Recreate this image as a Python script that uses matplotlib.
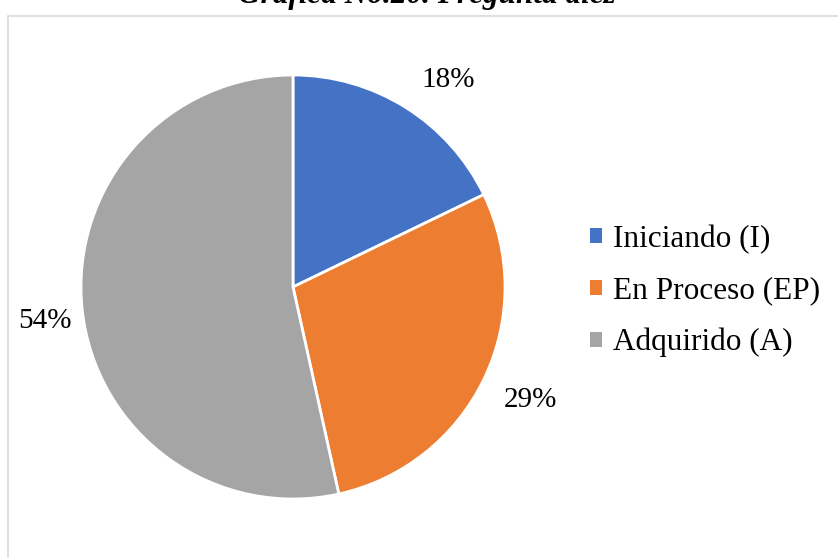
import matplotlib.pyplot as plt
from matplotlib.patches import Rectangle

# Data
categories = ["Iniciando (I)", "En Proceso (EP)", "Adquirido (A)"]
values = [18, 29, 54]
colors = ["#4472C4", "#ED7D31", "#A5A5A5"]
title = "Gráfica No.20. Pregunta diez"

plt.rcParams['font.family'] = ['Liberation Serif', 'DejaVu Serif']

W, H = 838, 558
fig = plt.figure(figsize=(W / 100, H / 100), dpi=100)

# chart frame (runs off the right and bottom edges)
fig.patches.append(Rectangle((8 / W, -0.1), 1.0, 1 - 16 / H + 0.1,
                             transform=fig.transFigure, fill=False,
                             edgecolor="#D9D9D9", linewidth=1.2))

# pie axes: center ~ (293, 287), radius ~ 212 px
cx, cy, r = 293, 287, 212
ax = fig.add_axes([(cx - r) / W, (H - cy - r) / H, 2 * r / W, 2 * r / H])
wedges, texts, autotexts = ax.pie(
    values, colors=colors, startangle=90, counterclock=False,
    autopct=lambda p: "{:.0f}%".format(p * sum(values) / 100),
    pctdistance=1.22, radius=1.0,
    wedgeprops=dict(edgecolor="white", linewidth=2),
    textprops=dict(fontsize=21, color="black"))
ax.set_xlim(-1, 1)
ax.set_ylim(-1, 1)
ax.set_aspect("equal")

# nudge labels to where Excel put them (offsets in pixels)
nudges = [(18, -12), (5, 0), (9, -6)]
for t, (dx, dy) in zip(autotexts, nudges):
    x, y = t.get_position()
    t.set_position((x + dx / r, y + dy / r))

leg = fig.legend(wedges, categories, loc="center left",
                 bbox_to_anchor=(562 / W, 1 - 291 / H), frameon=False,
                 fontsize=22.5, handlelength=0.37, handleheight=0.37,
                 handletextpad=0.35, labelspacing=0.72)
for h in leg.legend_handles:
    h.set_linewidth(0)

fig.text(427 / W, 1 - 3 / H, title, ha="center", va="baseline",
         fontsize=22.5, fontweight="bold", fontstyle="italic")

fig.savefig("out.png", dpi=100)
